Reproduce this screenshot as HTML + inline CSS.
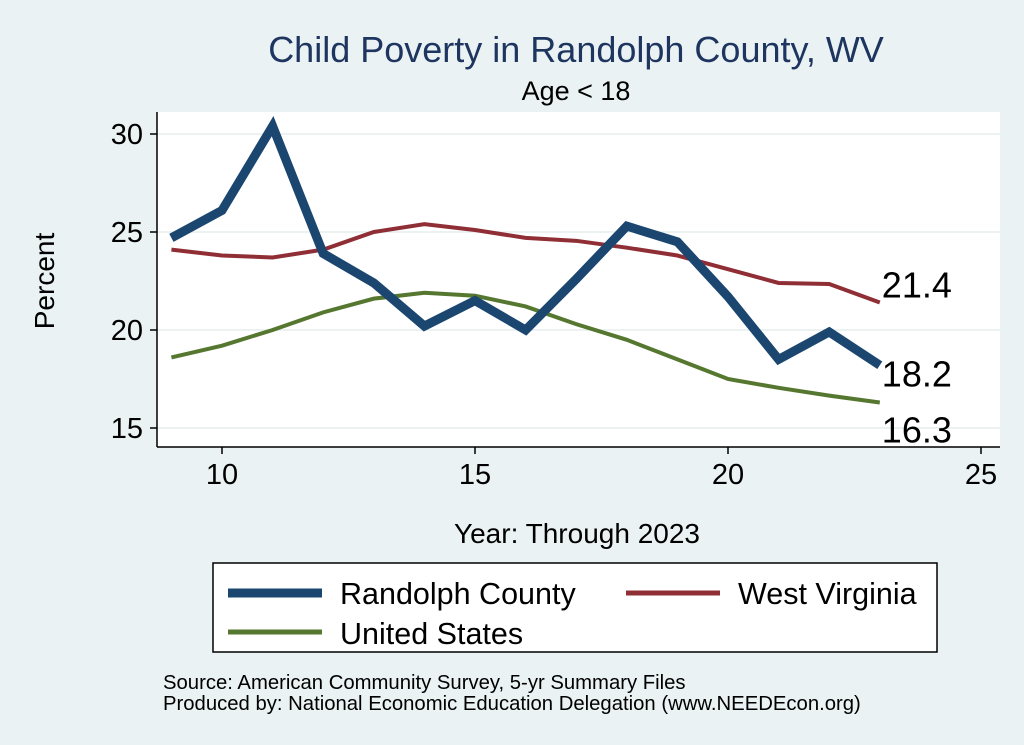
<!DOCTYPE html>
<html><head><meta charset="utf-8"><style>
body{margin:0;background:#eaf2f3;}
svg{display:block;font-family:"Liberation Sans",Arial,sans-serif;}
</style></head><body>
<svg id="chart" width="1024" height="745" viewBox="0 0 1024 745">
<rect width="1024" height="745" fill="#eaf2f3"/>
<text x="576" y="62" font-size="36" fill="#1e3560" text-anchor="middle">Child Poverty in Randolph County, WV</text>
<text x="576" y="100" font-size="27" fill="#000" text-anchor="middle">Age &lt; 18</text>
<rect x="157" y="112" width="843" height="335" fill="#fff"/>
<g id="grid"></g><g id="axes"></g><g id="series"></g>
<text x="54" y="281" font-size="28" text-anchor="middle" transform="rotate(-90 54 281)">Percent</text>
<text x="577" y="543" font-size="28" text-anchor="middle">Year: Through 2023</text>
<g>
<rect x="213" y="563" width="724" height="89" fill="#fff" stroke="#000" stroke-width="1.5"/>
<line x1="228" y1="593" x2="322" y2="593" stroke="#1a4670" stroke-width="9"/>
<text x="340" y="604" font-size="30.5">Randolph County</text>
<line x1="626" y1="593" x2="720" y2="593" stroke="#8f2f35" stroke-width="5"/>
<text x="738" y="604" font-size="30.5">West Virginia</text>
<line x1="228" y1="632" x2="322" y2="632" stroke="#55772f" stroke-width="5"/>
<text x="340" y="644" font-size="30.5">United States</text>
</g>
<text x="163" y="689" font-size="20.3">Source: American Community Survey, 5-yr Summary Files</text>
<text x="163" y="710" font-size="20.3">Produced by: National Economic Education Delegation (www.NEEDEcon.org)</text>
</svg>
<script>
const years=[9,10,11,12,13,14,15,16,17,18,19,20,21,22,23];
const randolph=[24.7,26.1,30.4,23.9,22.4,20.2,21.5,20.0,22.6,25.3,24.5,21.7,18.5,19.9,18.2];
const westVirginia=[24.1,23.8,23.7,24.1,25.0,25.4,25.1,24.7,24.55,24.2,23.8,23.1,22.4,22.35,21.4];
const unitedStates=[18.6,19.2,20.0,20.9,21.6,21.9,21.75,21.2,20.3,19.5,18.5,17.5,17.05,16.65,16.3];
const xTicks=[10,15,20,25];
const yTicks=[15,20,25,30];
const NS="http://www.w3.org/2000/svg";
const xs=v=>222+(v-10)*50.6;
const ys=v=>330-(v-20)*19.6;
function mk(tag,attrs,parent){const e=document.createElementNS(NS,tag);for(const k in attrs)e.setAttribute(k,attrs[k]);parent.appendChild(e);return e;}
const grid=document.getElementById('grid'),axes=document.getElementById('axes'),ser=document.getElementById('series');
yTicks.forEach(t=>{
 const g=mk('line',{x1:157,x2:1000,y1:ys(t),y2:ys(t),stroke:'#e6eeee','stroke-width':1.5},grid);
 
 
 mk('line',{x1:150,x2:157,y1:ys(t),y2:ys(t),stroke:'#000','stroke-width':1.5},axes);
 const tx=mk('text',{x:143,y:ys(t)+10,'font-size':29,'text-anchor':'end'},axes);tx.textContent=t;
 
 
});
xTicks.forEach(t=>{
 mk('line',{x1:xs(t),x2:xs(t),y1:447,y2:454,stroke:'#000','stroke-width':1.5},axes);
 const tx=mk('text',{x:xs(t),y:484,'font-size':29,'text-anchor':'middle'},axes);tx.textContent=t;
 
 
});
mk('line',{x1:157,x2:157,y1:112,y2:447,stroke:'#000','stroke-width':1.5},axes);
mk('line',{x1:157,x2:1000,y1:447,y2:447,stroke:'#000','stroke-width':1.5},axes);
function line(data,color,w,name){
 const p=mk('polyline',{points:data.map((v,i)=>xs(years[i])+','+ys(v)).join(' '),fill:'none',stroke:color,'stroke-width':w,'stroke-linejoin':'miter'},ser);
 
 
}
line(westVirginia,'#8f2f35',4,'line-west-virginia');
line(unitedStates,'#55772f',4,'line-united-states');
line(randolph,'#1a4670',9,'line-randolph-county');
const n=years.length-1;
[[westVirginia,-5,'label-wv-last'],[randolph,21,'label-randolph-last'],[unitedStates,40,'label-us-last']].forEach(([d,dy,nm])=>{
 const t=mk('text',{x:xs(years[n])+2,y:ys(d[n])+dy,'font-size':36},ser);t.textContent=d[n].toFixed(1);
 
 
});
</script>
</body></html>
